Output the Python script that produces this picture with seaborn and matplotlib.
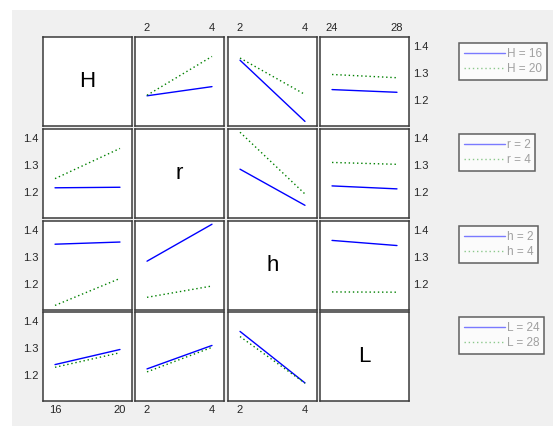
import numpy as np
import pandas as pd
import matplotlib
matplotlib.use("Agg")
import matplotlib.pyplot as plt
from matplotlib.lines import Line2D
from matplotlib.patches import Rectangle
import seaborn as sns

sns.set_style("white")
plt.rcParams['font.family'] = ['Liberation Sans', 'DejaVu Sans']

# ---- data -------------------------------------------------------------
factors = ["H", "r", "h", "L"]
levels = {"H": [16, 20], "r": [2, 4], "h": [2, 4], "L": [24, 28]}

# cell means: rows = level of first factor, cols = level of second factor
means_H_r = [[1.217, 1.251], [1.219, 1.363]]
means_H_h = [[1.349, 1.122], [1.357, 1.222]]
means_H_L = [[1.240, 1.230], [1.296, 1.284]]
means_r_h = [[1.286, 1.152], [1.423, 1.194]]
means_r_L = [[1.224, 1.213], [1.311, 1.304]]
means_h_L = [[1.363, 1.344], [1.172, 1.171]]

yticks = [1.2, 1.3, 1.4]
ylim = (1.105, 1.435)

tables = {
    ("H", "r"): means_H_r, ("H", "h"): means_H_h, ("H", "L"): means_H_L,
    ("r", "h"): means_r_h, ("r", "L"): means_r_L, ("h", "L"): means_h_L,
}


def cell_table(a, b):
    if (a, b) in tables:
        return np.array(tables[(a, b)])
    return np.array(tables[(b, a)]).T


# ---- figure -----------------------------------------------------------
W, H = 553, 426
fig = plt.figure(figsize=(W / 100, H / 100), dpi=100, facecolor="white")
fig.patches.append(Rectangle((12 / W, 0), 1 - 12 / W, 1 - 10 / H,
                             transform=fig.transFigure, facecolor="#f0f0f0",
                             edgecolor="none", zorder=-10))

col_left = [43, 135, 228, 320]
row_top = [37, 129, 221, 312]
pw, ph = 89, 89

line_colors = ["#0000ff", "#008000"]
line_styles = ["-", (0, (1, 2))]

for i, fi in enumerate(factors):
    for j, fj in enumerate(factors):
        ax = fig.add_axes([col_left[j] / W, 1 - (row_top[i] + ph) / H, pw / W, ph / H])
        ax.set_facecolor("white")
        for s in ax.spines.values():
            s.set_color("#3a3a3a")
            s.set_linewidth(1.1)
        ax.tick_params(length=0, labelsize=8, colors="#262626", pad=3)
        lo, hi = levels[fj]
        span = hi - lo
        ax.set_xlim(lo - 0.185 * span, hi + 0.185 * span)
        ax.set_ylim(*ylim)
        ax.set_xticks(levels[fj])
        ax.set_yticks(yticks)
        ax.set_xticklabels([])
        ax.set_yticklabels([])
        if i == j:
            ax.text(0.5, 0.5, fi, transform=ax.transAxes, ha="center",
                    va="center", fontsize=16, color="black")
        else:
            tab = cell_table(fi, fj)
            for k, lev in enumerate(levels[fi]):
                df = pd.DataFrame({"x": levels[fj], "y": tab[k]})
                sns.lineplot(data=df, x="x", y="y", ax=ax, color=line_colors[k],
                             linestyle=line_styles[k], linewidth=1.0)
        ax.set_xlabel("")
        ax.set_ylabel("")
        # tick labels
        if i == 0 and j > 0:
            ax.xaxis.set_ticks_position("top")
            ax.set_xticks(levels[fj])
            ax.set_xticklabels([str(v) for v in levels[fj]])
            ax.tick_params(axis="x", labeltop=True, labelbottom=False)
        if i == 3 and j < 3:
            ax.set_xticklabels([str(v) for v in levels[fj]])
        if j == 0 and i > 0:
            ax.set_yticklabels([f"{v:.1f}" for v in yticks])
        if j == 3 and i < 3:
            ax.yaxis.set_ticks_position("right")
            ax.set_yticks(yticks)
            ax.set_yticklabels([f"{v:.1f}" for v in yticks])
            ax.tick_params(axis="y", labelright=True, labelleft=False)

# ---- legends ----------------------------------------------------------
leg_tops = [43, 134, 226, 317]
for i, fi in enumerate(factors):
    handles = [Line2D([], [], color="#7a7aff", linestyle="-", linewidth=1.0),
               Line2D([], [], color="#8cc88c", linestyle=(0, (1, 2)), linewidth=1.0)]
    labels = [f"{fi} = {v}" for v in levels[fi]]
    leg = fig.legend(handles, labels, loc="upper left",
                     bbox_to_anchor=(459 / W, 1 - leg_tops[i] / H),
                     frameon=True, fancybox=False, fontsize=8.5,
                     handlelength=3.5, handletextpad=0.15, borderpad=0.4,
                     labelspacing=0.3, borderaxespad=0)
    leg.get_frame().set_edgecolor("#3a3a3a")
    leg.get_frame().set_linewidth(1.1)
    leg.get_frame().set_facecolor("white")
    for t in leg.get_texts():
        t.set_color("#a0a0a0")

fig.savefig("out.png", dpi=100, facecolor=fig.get_facecolor())
